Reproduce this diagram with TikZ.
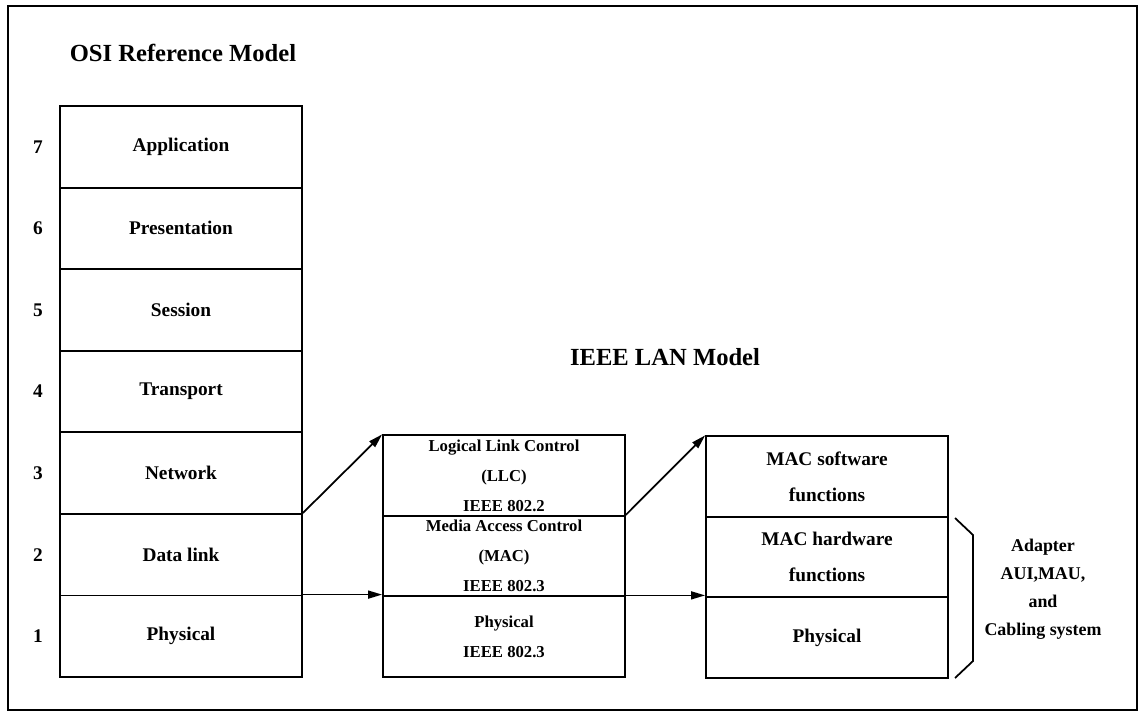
\documentclass[tikz,border=0pt]{standalone}
\usepackage{fontspec}
\setmainfont{Liberation Serif}
\usetikzlibrary{arrows.meta,positioning,calc}

\begin{document}
\begin{tikzpicture}[x=0.02cm, y=-0.02cm,
  layer/.style={draw, line width=1pt, minimum width=4.84cm, minimum height=1.63cm,
    inner sep=0pt, align=center, font=\bfseries\fontsize{11}{20.5}\selectfont},
  lanlayer/.style={layer, minimum height=1.61cm, font=\bfseries\fontsize{9.5}{17}\selectfont},
  flow/.style={line width=1pt, -{Triangle[length=8pt,width=4.5pt]}}]
\useasboundingbox (0,0) rectangle (1145,724);
\draw[line width=0.8pt] (8,6) rectangle (1137,710);

% OSI stack
\node[font=\bfseries\fontsize{14}{16}\selectfont] (osititle) at (183,53) {OSI Reference Model};
\foreach \n/\l in {1/Physical,2/Data link,3/Network,4/Transport,5/Session,6/Presentation,7/Application} {
  \node[layer] (osi\n) at (181,{677-(\n-0.5)*81.57}) {\l};
  \node[font=\bfseries\fontsize{11}{13}\selectfont] (num\n) at (38,{677-(\n-0.5)*81.57}) {\n};
}

% IEEE LAN model
\node[font=\bfseries\fontsize{14}{16}\selectfont] (lantitle) at (665,357) {IEEE LAN Model};
\node[lanlayer] (llc) at (504,475.5) {Logical Link Control\\(LLC)\\IEEE 802.2};
\node[lanlayer] (mac) at (504,556) {Media Access Control\\(MAC)\\IEEE 802.3};
\node[lanlayer] (phy) at (504,636.5) {Physical\\IEEE 802.3};

\node[layer, minimum height=1.61cm] (macsw) at (827,476.5) {\raisebox{-4pt}{MAC software}\\\raisebox{-4pt}{functions}};
\node[layer, minimum height=1.61cm] (machw) at (827,557) {MAC hardware\\functions};
\node[layer, minimum height=1.61cm] (macphy) at (827,637.5) {\raisebox{-2pt}{Physical}};

\draw[flow] (osi2.north east) -- (llc.north west);
\draw[flow] (osi1.north east) -- (osi1.north east -| phy.west);
\draw[flow] (mac.north east) -- (macsw.north west);
\draw[flow] (phy.north east) -- (phy.north east -| macphy.west);

% bracket
\coordinate (bt) at (955,518);
\coordinate (bb) at (955,678);
\draw[line width=1pt] (bt) -- ++(18,17) -- ++(0,126) -- (bb);
\node[align=center, font=\bfseries\fontsize{10.2}{16}\selectfont] (adapter) at (1043,589.5)
  {Adapter\\AUI,MAU,\\and\\Cabling system};
\end{tikzpicture}
\end{document}
